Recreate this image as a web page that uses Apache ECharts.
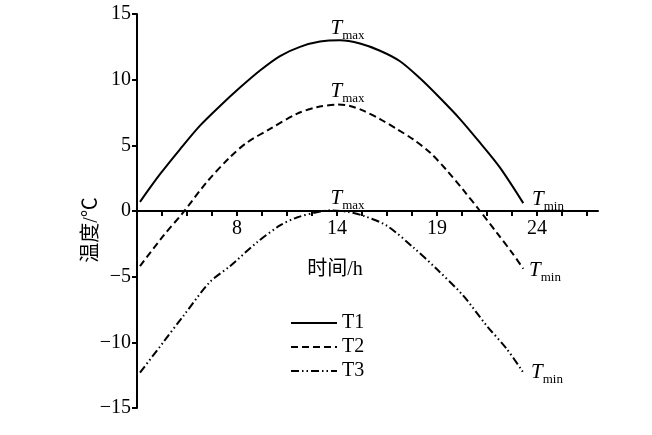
<!DOCTYPE html>
<html>
<head>
<meta charset="utf-8">
<script src="https://cdn.jsdelivr.net/npm/echarts@6/dist/echarts.min.js"></script>
<style>html,body{margin:0;padding:0;background:#fff}#c{width:652px;height:435px}</style>
</head>
<body>
<div id="c"></div>
<script>
// x values are in axis tick units (one tick = one unit); labelled ticks below
const xTickValues = [1,2,3,4,5,6,7,8,9,10,11,12,13,14,15,16,17,18];
const xLabelValues = [4, 8, 12, 16];
const xLabelTexts = ['8', '14', '19', '24'];
const seriesNames = ['T1', 'T2', 'T3'];
const t1 = [[0.12,0.7],[0.92,2.8],[1.72,4.7],[2.52,6.5],[3.32,8.0],[4.12,9.4],[4.92,10.7],[5.72,11.8],[6.52,12.5],[7.32,12.9],[8.12,13.0],[8.92,12.75],[9.72,12.2],[10.52,11.4],[11.32,10.1],[12.12,8.6],[12.92,7.0],[13.72,5.2],[14.52,3.3],[15.45,0.6]];
const t2 = [[0.12,-4.2],[1.05,-1.9],[1.85,-0.1],[2.79,2.2],[3.72,4.1],[4.39,5.2],[5.32,6.25],[6.39,7.4],[7.19,7.9],[8.05,8.1],[8.52,8.0],[9.05,7.64],[9.72,7.0],[10.39,6.25],[11.05,5.45],[11.72,4.45],[12.39,3.1],[13.05,1.6],[13.72,0.0],[14.39,-1.65],[15.05,-3.3],[15.45,-4.4]];
const t3 = [[0.12,-12.3],[1.05,-10.0],[1.85,-8.0],[2.92,-5.4],[3.72,-4.2],[4.79,-2.4],[5.72,-1.1],[6.39,-0.5],[7.19,-0.1],[7.72,0.05],[8.39,-0.05],[9.05,-0.36],[9.99,-1.12],[11.05,-2.77],[11.99,-4.42],[13.05,-6.45],[13.99,-8.74],[14.79,-10.5],[15.45,-12.3]];
// annotation anchor points (data coords) for T_max / T_min labels
const maxLabelAt = [[8.42,13.78],[8.42,8.99],[8.42,0.84]];
const minLabelAt = [[16.44,0.76],[16.32,-4.65],[16.4,-12.41]];

const serif = '"Liberation Serif","Times New Roman",serif';
const cjk = '"Liberation Serif","Noto Sans CJK SC",serif';
const rich = {
  t: {fontFamily: serif, fontStyle: 'italic', fontSize: 21, color: '#000', verticalAlign: 'bottom', padding: [0,0,3,0]},
  s: {fontFamily: serif, fontSize: 13, color: '#000', verticalAlign: 'bottom'}
};
function marks(i) {
  return {
    symbol: 'circle', symbolSize: 0, silent: true,
    label: {show: true, position: 'inside', rich: rich},
    data: [
      {coord: maxLabelAt[i], label: {formatter: '{t|T}{s|max}'}},
      {coord: minLabelAt[i], label: {formatter: '{t|T}{s|min}'}}
    ]
  };
}
const dashTypes = ['solid', [7,4], [8,3,1.5,3,1.5,3]];
const datas = [t1, t2, t3];
const chart = echarts.init(document.getElementById('c'), null, {renderer: 'canvas'});
chart.setOption({
  animation: false,
  backgroundColor: '#fff',
  grid: {left: 137, right: 54, top: 14, bottom: 27, containLabel: false},
  legend: {
    orient: 'vertical', left: 285, top: 308, itemWidth: 46, itemHeight: 14, itemGap: 4,
    itemStyle: {opacity: 0},
    textStyle: {fontFamily: serif, fontSize: 20, color: '#000'},
    data: seriesNames
  },
  xAxis: {
    type: 'value', min: 0, max: 18.44, offset: -197,
    axisLine: {onZero: false, lineStyle: {color: '#000', width: 2}},
    axisTick: {show: true, length: 5, customValues: xTickValues, lineStyle: {color: '#000', width: 2}},
    axisLabel: {
      customValues: xLabelValues, margin: 8,
      fontFamily: serif, fontSize: 20, color: '#000',
      formatter: v => { const k = xLabelValues.indexOf(Math.round(v)); return k >= 0 ? xLabelTexts[k] : ''; }
    },
    splitLine: {show: false}
  },
  yAxis: {
    type: 'value', min: -15, max: 15, interval: 5,
    axisLine: {show: true, onZero: false, lineStyle: {color: '#000', width: 2}},
    axisTick: {show: true, length: 5, lineStyle: {color: '#000', width: 2}},
    axisLabel: {margin: 6, fontFamily: serif, fontSize: 20, color: '#000', formatter: v => String(v).replace('-', '\u2212')},
    splitLine: {show: false}
  },
  graphic: [
    {type: 'text', x: 335, y: 270, style: {text: '时间/h', font: '20px ' + cjk, fill: '#000', align: 'center', verticalAlign: 'middle'}},
    {type: 'text', x: 92, y: 230, rotation: Math.PI / 2, style: {text: '温度/℃', font: '20px ' + cjk, fill: '#000', align: 'center', verticalAlign: 'middle'}}
  ],
  series: seriesNames.map((n, i) => ({
    name: n, type: 'line', data: datas[i], smooth: 0.3, symbol: 'none', showSymbol: false,
    lineStyle: {color: '#000', width: 2, type: dashTypes[i]},
    itemStyle: {color: '#000'},
    markPoint: marks(i)
  }))
});
</script>
</body>
</html>
